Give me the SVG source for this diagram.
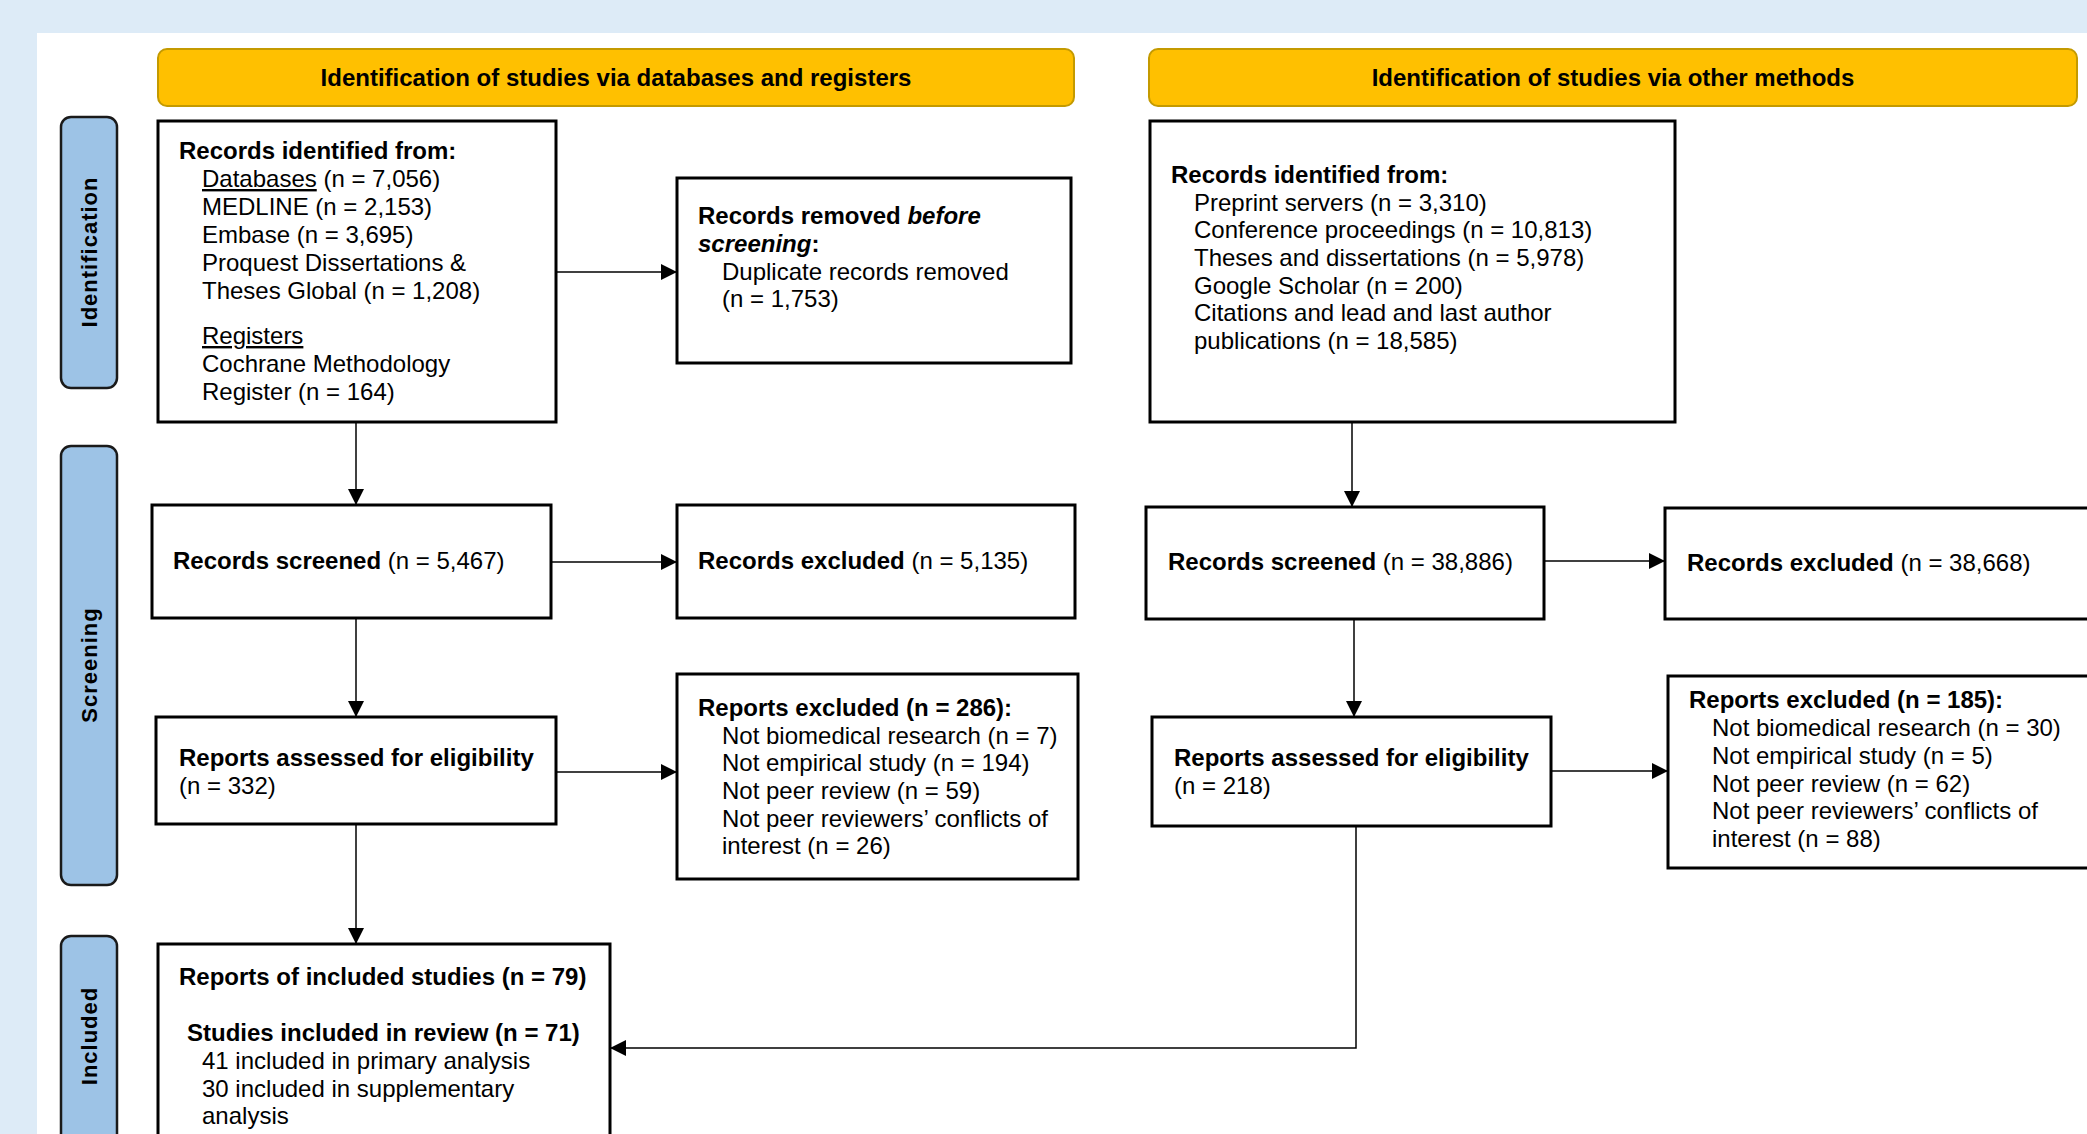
<svg xmlns="http://www.w3.org/2000/svg" width="2087" height="1134" viewBox="0 0 2087 1134">
<style>
text{font-family:"Liberation Sans",Arial,sans-serif;font-size:24px;fill:#000}
.b{font-weight:bold}
.bi{font-weight:bold;font-style:italic}
.u{text-decoration:underline}
.box{fill:#fff;stroke:#000;stroke-width:3}
.hdr{fill:#FFC000;stroke:#C49A00;stroke-width:2}
.tab{fill:#9DC3E6;stroke:#1a1a1a;stroke-width:2.5}
.tabt{font-weight:bold;font-size:22px;letter-spacing:1px}
.c{fill:none;stroke:#000;stroke-width:1.5}
</style>
<defs>
<marker id="ah" markerUnits="userSpaceOnUse" markerWidth="16" markerHeight="16" refX="16" refY="8" orient="auto">
<path d="M0,0 L16,8 L0,16 z" fill="#000"/>
</marker>
</defs>
<rect x="0" y="0" width="2087" height="1134" fill="#DDEBF7"/>
<rect x="37" y="33" width="2050" height="1101" fill="#fff"/>

<g id="header-db">
<rect class="hdr" x="158" y="49" width="916" height="57" rx="9"/>
<text class="b" x="616" y="86" text-anchor="middle">Identification of studies via databases and registers</text>
</g>
<g id="header-other">
<rect class="hdr" x="1149" y="49" width="928" height="57" rx="9"/>
<text class="b" x="1613" y="86" text-anchor="middle">Identification of studies via other methods</text>
</g>

<g id="tab-identification">
<rect class="tab" x="61" y="117" width="56" height="271" rx="10"/>
<text class="tabt" transform="translate(97,252) rotate(-90)" text-anchor="middle">Identification</text>
</g>
<g id="tab-screening">
<rect class="tab" x="61" y="446" width="56" height="439" rx="10"/>
<text class="tabt" transform="translate(97,665) rotate(-90)" text-anchor="middle">Screening</text>
</g>
<g id="tab-included">
<rect class="tab" x="61" y="936" width="56" height="210" rx="10"/>
<text class="tabt" transform="translate(97,1036) rotate(-90)" text-anchor="middle">Included</text>
</g>

<g id="connectors">
<path class="c" d="M556,272 H677" marker-end="url(#ah)"/>
<path class="c" d="M356,422 V505" marker-end="url(#ah)"/>
<path class="c" d="M551,562 H677" marker-end="url(#ah)"/>
<path class="c" d="M356,618 V717" marker-end="url(#ah)"/>
<path class="c" d="M556,772 H677" marker-end="url(#ah)"/>
<path class="c" d="M356,824 V944" marker-end="url(#ah)"/>
<path class="c" d="M1352,422 V507" marker-end="url(#ah)"/>
<path class="c" d="M1544,561 H1665" marker-end="url(#ah)"/>
<path class="c" d="M1354,619 V717" marker-end="url(#ah)"/>
<path class="c" d="M1551,771 H1668" marker-end="url(#ah)"/>
<path class="c" d="M1356,826 V1048 H610" marker-end="url(#ah)"/>
</g>

<g id="db-identified">
<rect class="box" x="158" y="121" width="398" height="301"/>
<text class="b" x="179" y="159">Records identified from:</text>
<text x="202" y="187"><tspan class="u">Databases</tspan> (n = 7,056)</text>
<text x="202" y="215">MEDLINE (n = 2,153)</text>
<text x="202" y="243">Embase (n = 3,695)</text>
<text x="202" y="271">Proquest Dissertations &amp;</text>
<text x="202" y="299">Theses Global (n = 1,208)</text>
<text x="202" y="344" class="u">Registers</text>
<text x="202" y="372">Cochrane Methodology</text>
<text x="202" y="400">Register (n = 164)</text>
</g>

<g id="db-removed">
<rect class="box" x="677" y="178" width="394" height="185"/>
<text class="b" x="698" y="224">Records removed <tspan class="bi">before</tspan></text>
<text class="b" x="698" y="252"><tspan class="bi">screening</tspan>:</text>
<text x="722" y="280">Duplicate records removed</text>
<text x="722" y="307">(n = 1,753)</text>
</g>

<g id="db-screened">
<rect class="box" x="152" y="505" width="399" height="113"/>
<text x="173" y="569"><tspan class="b">Records screened</tspan> (n = 5,467)</text>
</g>

<g id="db-excluded">
<rect class="box" x="677" y="505" width="398" height="113"/>
<text x="698" y="569"><tspan class="b">Records excluded</tspan> (n = 5,135)</text>
</g>

<g id="db-assessed">
<rect class="box" x="156" y="717" width="400" height="107"/>
<text class="b" x="179" y="766">Reports assessed for eligibility</text>
<text x="179" y="794">(n = 332)</text>
</g>

<g id="db-reports-excluded">
<rect class="box" x="677" y="674" width="401" height="205"/>
<text class="b" x="698" y="716">Reports excluded (n = 286):</text>
<text x="722" y="744">Not biomedical research (n = 7)</text>
<text x="722" y="771">Not empirical study (n = 194)</text>
<text x="722" y="799">Not peer review (n = 59)</text>
<text x="722" y="827">Not peer reviewers’ conflicts of</text>
<text x="722" y="854">interest (n = 26)</text>
</g>

<g id="included">
<rect class="box" x="158" y="944" width="452" height="220"/>
<text class="b" x="179" y="985">Reports of included studies (n = 79)</text>
<text class="b" x="187" y="1041">Studies included in review (n = 71)</text>
<text x="202" y="1069">41 included in primary analysis</text>
<text x="202" y="1097">30 included in supplementary</text>
<text x="202" y="1124">analysis</text>
</g>

<g id="other-identified">
<rect class="box" x="1150" y="121" width="525" height="301"/>
<text class="b" x="1171" y="183">Records identified from:</text>
<text x="1194" y="211">Preprint servers (n = 3,310)</text>
<text x="1194" y="238">Conference proceedings (n = 10,813)</text>
<text x="1194" y="266">Theses and dissertations (n = 5,978)</text>
<text x="1194" y="294">Google Scholar (n = 200)</text>
<text x="1194" y="321">Citations and lead and last author</text>
<text x="1194" y="349">publications (n = 18,585)</text>
</g>

<g id="other-screened">
<rect class="box" x="1146" y="507" width="398" height="112"/>
<text x="1168" y="570"><tspan class="b">Records screened</tspan> (n = 38,886)</text>
</g>

<g id="other-excluded">
<rect class="box" x="1665" y="508" width="440" height="111"/>
<text x="1687" y="571"><tspan class="b">Records excluded</tspan> (n = 38,668)</text>
</g>

<g id="other-assessed">
<rect class="box" x="1152" y="717" width="399" height="109"/>
<text class="b" x="1174" y="766">Reports assessed for eligibility</text>
<text x="1174" y="794">(n = 218)</text>
</g>

<g id="other-reports-excluded">
<rect class="box" x="1668" y="676" width="440" height="192"/>
<text class="b" x="1689" y="708">Reports excluded (n = 185):</text>
<text x="1712" y="736">Not biomedical research (n = 30)</text>
<text x="1712" y="764">Not empirical study (n = 5)</text>
<text x="1712" y="792">Not peer review (n = 62)</text>
<text x="1712" y="819">Not peer reviewers’ conflicts of</text>
<text x="1712" y="847">interest (n = 88)</text>
</g>
</svg>
